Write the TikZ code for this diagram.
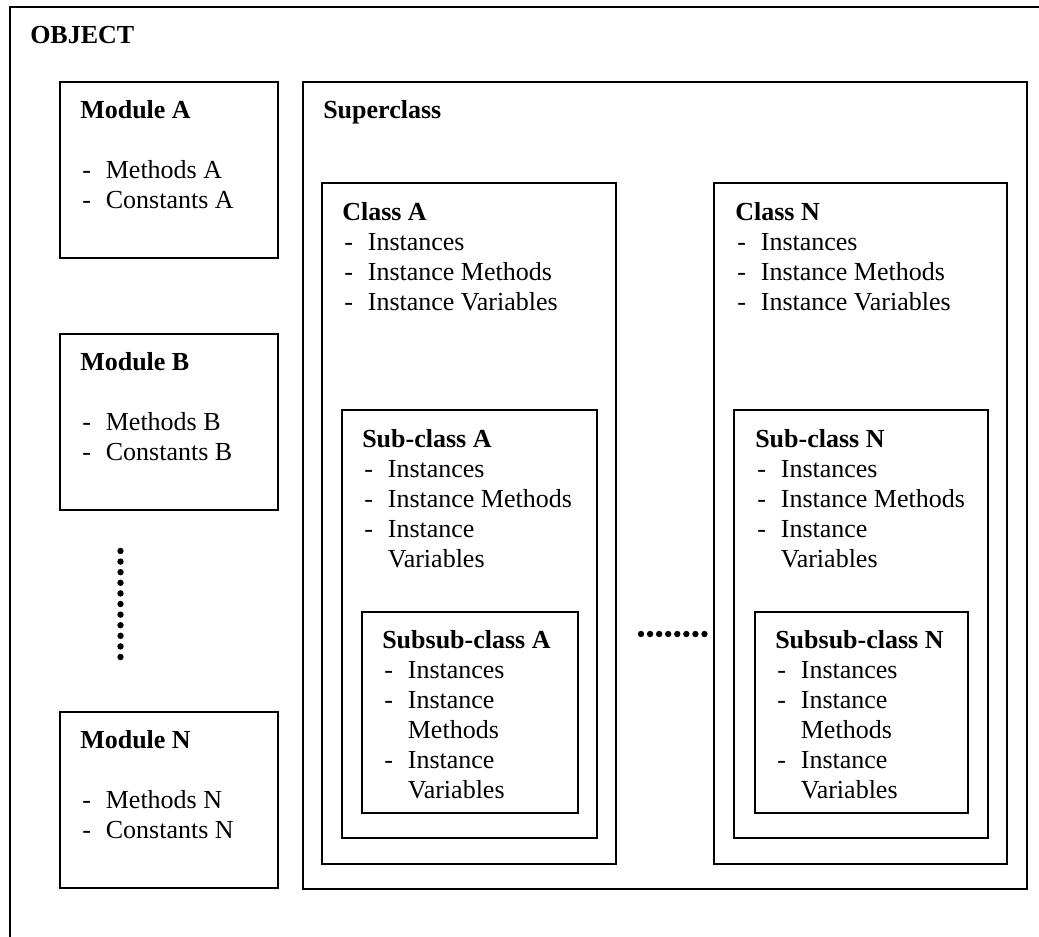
\documentclass[tikz,border=0pt]{standalone}
\usepackage{fontspec}
\setmainfont{Liberation Serif}
\usetikzlibrary{fit}

% list item with a leading dash, and a continuation line aligned with the item text
\newcommand\li[1]{\makebox[19.2pt][l]{\hspace{1.5pt}-}#1}
\newcommand\lc[1]{\hspace{19.2pt}#1}

\begin{document}
\begin{tikzpicture}[x=0.75pt,y=-0.75pt,
  boxframe/.style={draw, line width=1.4pt, inner sep=0pt},
  txt/.style={anchor=base west, inner sep=0pt, font=\fontsize{19.5pt}{22.5pt}\selectfont},
  dotrow/.style={line width=4.8pt, line cap=round, dash pattern=on 0pt off #1}]

\clip (0,0) rectangle (1039,936);

% outer object frame (runs past the right and bottom edges)
\node[boxframe, fit={(10,7) (1080,980)}] (object) {};
\node[txt] (objectT) at (30,43) {\textbf{OBJECT}};

% modules
\node[boxframe, fit={(60,82) (278,258)}] (modA) {};
\node[txt] (modAT) at (80,118) {\begin{tabular}[t]{@{}l@{}}\textbf{Module A}\\ \\ \li{Methods A}\\ \li{Constants A}\end{tabular}};

\node[boxframe, fit={(60,334) (278,510)}] (modB) {};
\node[txt] (modBT) at (80,370) {\begin{tabular}[t]{@{}l@{}}\textbf{Module B}\\ \\ \li{Methods B}\\ \li{Constants B}\end{tabular}};

\draw[dotrow=7.95pt] (120.5,551) -- (120.5,658);

\node[boxframe, fit={(60,712) (278,888)}] (modN) {};
\node[txt] (modNT) at (80,748) {\begin{tabular}[t]{@{}l@{}}\textbf{Module N}\\ \\ \li{Methods N}\\ \li{Constants N}\end{tabular}};

% superclass
\node[boxframe, fit={(303,82) (1027,889)}] (super) {};
\node[txt] (superT) at (323,118) {\textbf{Superclass}};

% class A branch
\node[boxframe, fit={(322,183) (616,864)}] (classA) {};
\node[txt] (classAT) at (342,220) {\begin{tabular}[t]{@{}l@{}}\textbf{Class A}\\ \li{Instances}\\ \li{Instance Methods}\\ \li{Instance Variables}\end{tabular}};

\node[boxframe, fit={(342,410) (597,838)}] (subA) {};
\node[txt] (subAT) at (362,447) {\begin{tabular}[t]{@{}l@{}}\textbf{Sub-class A}\\ \li{Instances}\\ \li{Instance Methods}\\ \li{Instance}\\ \lc{Variables}\end{tabular}};

\node[boxframe, fit={(362,612) (578,813)}] (subsubA) {};
\node[txt] (subsubAT) at (382,648) {\begin{tabular}[t]{@{}l@{}}\textbf{Subsub-class A}\\ \li{Instances}\\ \li{Instance}\\ \lc{Methods}\\ \li{Instance}\\ \lc{Variables}\end{tabular}};

\draw[dotrow=6.8pt] (641,634) -- (705,634);

% class N branch
\node[boxframe, fit={(714,183) (1007,864)}] (classN) {};
\node[txt] (classNT) at (735,220) {\begin{tabular}[t]{@{}l@{}}\textbf{Class N}\\ \li{Instances}\\ \li{Instance Methods}\\ \li{Instance Variables}\end{tabular}};

\node[boxframe, fit={(734,410) (988,838)}] (subN) {};
\node[txt] (subNT) at (755,447) {\begin{tabular}[t]{@{}l@{}}\textbf{Sub-class N}\\ \li{Instances}\\ \li{Instance Methods}\\ \li{Instance}\\ \lc{Variables}\end{tabular}};

\node[boxframe, fit={(755,612) (968,813)}] (subsubN) {};
\node[txt] (subsubNT) at (775,648) {\begin{tabular}[t]{@{}l@{}}\textbf{Subsub-class N}\\ \li{Instances}\\ \li{Instance}\\ \lc{Methods}\\ \li{Instance}\\ \lc{Variables}\end{tabular}};

\end{tikzpicture}
\end{document}
